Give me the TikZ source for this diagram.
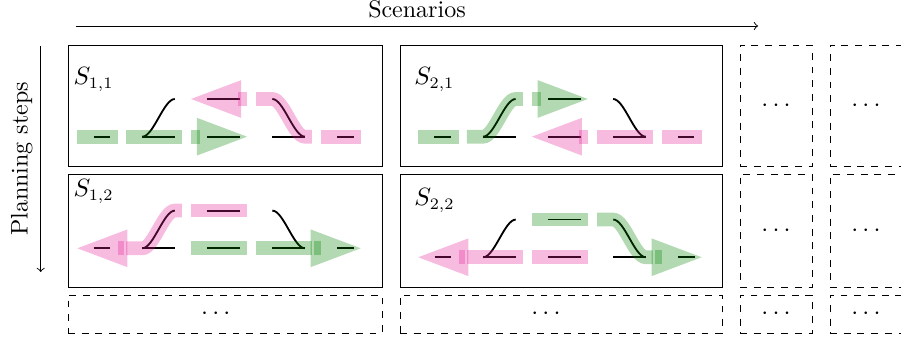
\documentclass[tikz,border=0pt]{standalone}
\usepackage{tikz}
\definecolor{RouteGreen}{RGB}{0,128,0}
\definecolor{RoutePink}{RGB}{230,30,150}

\begin{document}
\begin{tikzpicture}[
    font=\fontsize{10.5}{12.6}\selectfont,
    frame/.style={draw, inner sep=0pt},
    more/.style={draw, dashed, inner sep=0pt},
    lane/.style={thick},
    route/.style={line width=6pt, opacity=.3},
    head/.style={opacity=.3},
]
\useasboundingbox (0,0) rectangle (13.862,-5.2);

% axes
\coordinate (scA) at (1.169,-0.4);
\coordinate (scB) at (11.662,-0.4);
\coordinate (plA) at (0.626,-0.708);
\coordinate (plB) at (0.626,-4.185);
\draw[->] (scA) -- node[above] (sclbl) {Scenarios} (scB);
\draw[->] (plA) -- node[above, rotate=90] (pllbl) {Planning steps} (plB);

% scenario frames
\node[frame, minimum width=4.831cm, minimum height=1.862cm] (f11) at (3.462,-1.623) {};
\node[frame, minimum width=4.954cm, minimum height=1.862cm] (f21) at (8.631,-1.623) {};
\node[frame, minimum width=4.831cm, minimum height=1.738cm] (f12) at (3.462,-3.546) {};
\node[frame, minimum width=4.954cm, minimum height=1.738cm] (f22) at (8.631,-3.546) {};

% more scenarios / steps
\node[more, minimum width=4.831cm, minimum height=0.585cm] (f13) at (3.462,-4.831) {};
\node[more, minimum width=4.954cm, minimum height=0.585cm] (f23) at (8.631,-4.831) {};
\node (d13) at (3.32,-4.831) {$\cdots$};
\node (d23) at (8.40,-4.831) {$\cdots$};
\foreach \c/\x in {3/11.939, 4/13.323}{
  \foreach \r/\y/\h in {1/-1.623/1.862, 2/-3.546/1.738, 3/-4.831/0.585}{
    \node[more, minimum width=1.107cm, minimum height=\h cm] (f\c\r) at (\x,\y) {$\cdots$};
  }
}

% roads
\foreach \n/\sx/\sy/\i/\j in {s11/2.19/-2.103/1/1, s21/7.433/-2.103/2/1, s12/2.19/-3.82/1/2, s22/7.435/-3.958/2/2}{
  \begin{scope}[shift={(\sx,\sy)}]
    \node (\n) at (-0.75,0.875) {$S_{\i,\j}$};
    \foreach \a/\b in {-0.75/-0.5, 0/0.5, 1/1.5, 2/2.5, 3/3.25}{
      \draw[lane] (\a,0) -- (\b,0);
    }
    \draw[lane] (1,0.58) -- (1.5,0.58);
    \draw[lane] (0,0) .. controls (0.17,0) and (0.33,0.58) .. (0.5,0.58);
    \draw[lane] (2,0.58) .. controls (2.17,0.58) and (2.33,0) .. (2.5,0);
  \end{scope}
}

% S_{1,1}
\begin{scope}[shift={(2.19,-2.103)}]
  \draw[route, RouteGreen] (-1,0) -- (-0.37,0);
  \draw[route, RouteGreen] (-0.25,0) -- (0.61,0);
  \draw[route, RouteGreen] (0.75,0) -- (0.89,0);
  \fill[head, RouteGreen] (1.61,0) -- (0.84,0.29) -- (0.84,-0.29) -- cycle;
  \draw[route, RoutePink] (2.75,0) -- (3.36,0);
  \draw[route, RoutePink] (1.75,0.58) -- (2,0.58) .. controls (2.17,0.58) and (2.33,0) .. (2.5,0) -- (2.61,0);
  \draw[route, RoutePink] (1.61,0.58) -- (1.47,0.58);
  \fill[head, RoutePink] (0.75,0.58) -- (1.52,0.87) -- (1.52,0.29) -- cycle;
\end{scope}

% S_{2,1}
\begin{scope}[shift={(7.433,-2.103)}]
  \draw[route, RouteGreen] (-1,0) -- (-0.37,0);
  \draw[route, RouteGreen] (-0.25,0) -- (0,0) .. controls (0.17,0) and (0.33,0.58) .. (0.5,0.58) -- (0.61,0.58);
  \draw[route, RouteGreen] (0.75,0.58) -- (0.89,0.58);
  \fill[head, RouteGreen] (1.61,0.58) -- (0.84,0.87) -- (0.84,0.29) -- cycle;
  \draw[route, RoutePink] (2.75,0) -- (3.36,0);
  \draw[route, RoutePink] (1.75,0) -- (2.61,0);
  \draw[route, RoutePink] (1.61,0) -- (1.47,0);
  \fill[head, RoutePink] (0.75,0) -- (1.52,0.29) -- (1.52,-0.29) -- cycle;
\end{scope}

% S_{1,2}
\begin{scope}[shift={(2.19,-3.82)}]
  \draw[route, RoutePink] (0.75,0.58) -- (1.61,0.58);
  \draw[route, RoutePink] (-0.25,0) -- (0,0) .. controls (0.17,0) and (0.33,0.58) .. (0.5,0.58) -- (0.61,0.58);
  \draw[route, RoutePink] (-0.37,0) -- (-0.28,0);
  \fill[head, RoutePink] (-1,0) -- (-0.23,0.29) -- (-0.23,-0.29) -- cycle;
  \draw[route, RouteGreen] (0.75,0) -- (1.61,0);
  \draw[route, RouteGreen] (1.75,0) -- (2.61,0);
  \draw[route, RouteGreen] (2.75,0) -- (2.64,0);
  \fill[head, RouteGreen] (3.36,0) -- (2.59,0.29) -- (2.59,-0.29) -- cycle;
\end{scope}

% S_{2,2}
\begin{scope}[shift={(7.435,-3.958)}]
  \draw[route, RoutePink] (0.75,0) -- (1.61,0);
  \draw[route, RoutePink] (-0.25,0) -- (0.61,0);
  \draw[route, RoutePink] (-0.37,0) -- (-0.28,0);
  \fill[head, RoutePink] (-1,0) -- (-0.23,0.29) -- (-0.23,-0.29) -- cycle;
  \draw[route, RouteGreen] (0.75,0.58) -- (1.61,0.58);
  \draw[route, RouteGreen] (1.75,0.58) -- (2,0.58) .. controls (2.17,0.58) and (2.33,0) .. (2.5,0) -- (2.61,0);
  \draw[route, RouteGreen] (2.75,0) -- (2.64,0);
  \fill[head, RouteGreen] (3.36,0) -- (2.59,0.29) -- (2.59,-0.29) -- cycle;
\end{scope}
\end{tikzpicture}
\end{document}
